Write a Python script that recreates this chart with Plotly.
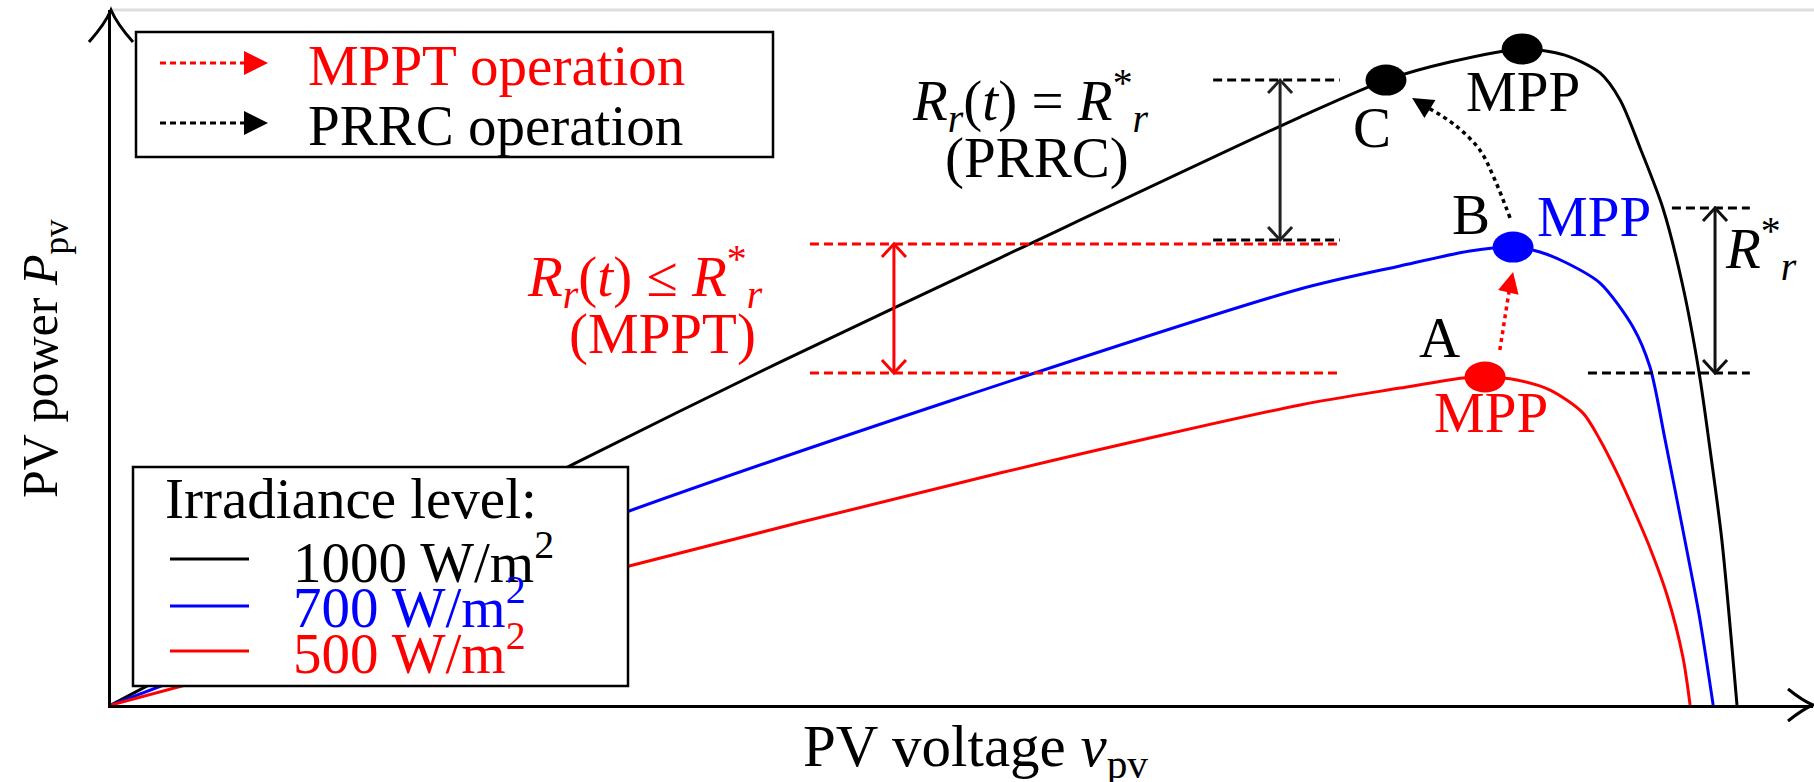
import plotly.graph_objects as go

# ---------------- data (PV voltage in V, PV power in W) ----------------
v_1000 = [0, 6.32, 12.29, 17.69, 23.50, 31.44, 33.71, 35.40, 37.31, 38.44, 39.37, 39.90, 40.45, 41.03, 41.54, 41.99, 42.28, 42.59, 42.99]
p_1000 = [0, 63.5, 121.9, 172.7, 225.1, 296.1, 314.7, 323.8, 330.4, 327.3, 318.3, 304.7, 279.5, 250.3, 212.5, 167.2, 128.4, 83.1, 0]

v_700 = [0, 13.70, 22.18, 31.44, 34.08, 35.93, 37.07, 37.78, 38.49, 39.37, 40.24, 40.69, 41.09, 41.56, 41.99, 42.36]
p_700 = [0, 97.7, 153.1, 209.5, 221.1, 228.6, 230.6, 228.1, 222.6, 212.5, 190.4, 170.2, 133.5, 88.1, 45.3, 0]

v_500 = [0, 13.70, 23.50, 31.44, 34.08, 35.75, 36.33, 37.17, 38.05, 38.92, 39.37, 39.82, 40.24, 40.69, 41.14, 41.56, 41.75]
p_500 = [0, 70.0, 116.8, 151.1, 159.6, 164.7, 165.2, 163.7, 158.6, 147.0, 133.5, 116.8, 99.2, 79.1, 55.4, 24.2, 0]

curve_names = ["1000 W/m<sup>2</sup>", "700 W/m<sup>2</sup>", "500 W/m<sup>2</sup>"]
curve_colors = ["#000000", "#0000ff", "#ff0000"]

# operating points
point_names = ["A", "B", "C", "MPP"]
point_v = [36.33, 37.07, 33.71, 37.31]
point_p = [165.2, 230.6, 314.7, 330.4]
point_colors = ["#ff0000", "#0000ff", "#000000", "#000000"]

# reserve levels (dashed reference lines)
mppt_levels = [167.2, 232.2]          # R_r(t) <= R*_r band
mppt_span = [18.48, 32.49]
mppt_arrow_v = 20.70
prrc_levels = [234.2, 314.7]          # R_r(t) = R*_r band
prrc_span = [29.14, 32.49]
prrc_arrow_v = 30.91
rstar_levels = [167.2, 250.3]         # R*_r band at right
rstar_span_lo = [39.05, 43.33]
rstar_span_hi = [41.27, 43.33]
rstar_arrow_v = 42.41

# transition paths
mppt_path_v = [36.72, 36.99]
mppt_path_p = [178.8, 211.5]
mppt_tip = [37.07, 218.1]
prrc_path_v = [36.99, 36.59, 36.19, 35.53, 34.74]
prrc_path_p = [245.3, 264.4, 279.5, 292.1, 301.7]
prrc_tip = [34.40, 305.7]

X_RANGE = [0, 45]
Y_RANGE = [0, 350]

# ---------------- layout helpers ----------------
W, H = 1814, 782
L, R, T, B = 111, 1, 10, 77
FONT = "Liberation Serif"
FS = 57


def PX(x):
    return (x - L) / (W - L - R)


def PY(y):
    return (H - B - y) / (H - T - B)


fig = go.Figure()

for v, p, c, n in zip([v_1000, v_700, v_500], [p_1000, p_700, p_500], curve_colors, curve_names):
    fig.add_trace(go.Scatter(x=v, y=p, mode="lines", name=n,
                             line=dict(color=c, width=3, shape="spline", smoothing=0.8),
                             hoverinfo="skip", showlegend=False))

# dashed reference lines
DASH = "9px,5px"
for lv in mppt_levels:
    fig.add_trace(go.Scatter(x=mppt_span, y=[lv, lv], mode="lines",
                             line=dict(color="#ff0000", width=3, dash=DASH), showlegend=False, hoverinfo="skip"))
for lv in prrc_levels:
    fig.add_trace(go.Scatter(x=prrc_span, y=[lv, lv], mode="lines",
                             line=dict(color="#000000", width=3, dash=DASH), showlegend=False, hoverinfo="skip"))
fig.add_trace(go.Scatter(x=rstar_span_lo, y=[rstar_levels[0]] * 2, mode="lines",
                         line=dict(color="#000000", width=3, dash=DASH), showlegend=False, hoverinfo="skip"))
fig.add_trace(go.Scatter(x=rstar_span_hi, y=[rstar_levels[1]] * 2, mode="lines",
                         line=dict(color="#000000", width=3, dash=DASH), showlegend=False, hoverinfo="skip"))

# double arrows (vertical shafts)
for av, lv, c in [(mppt_arrow_v, mppt_levels, "#ff0000"), (prrc_arrow_v, prrc_levels, "#222222"),
                  (rstar_arrow_v, rstar_levels, "#111111")]:
    fig.add_trace(go.Scatter(x=[av, av], y=lv, mode="lines", line=dict(color=c, width=3),
                             showlegend=False, hoverinfo="skip"))

# dotted transition paths
fig.add_trace(go.Scatter(x=mppt_path_v, y=mppt_path_p, mode="lines",
                         line=dict(color="#ff0000", width=3.5, dash="4px,4px"), showlegend=False, hoverinfo="skip"))
fig.add_trace(go.Scatter(x=prrc_path_v, y=prrc_path_p, mode="lines",
                         line=dict(color="#000000", width=3.5, dash="4px,4px", shape="spline"),
                         showlegend=False, hoverinfo="skip"))

shapes = []


# open "V" arrow heads
def vhead(x, y, path, color, xref="x", yref="y", width=3):
    shapes.append(dict(type="path", xref=xref, yref=yref, xsizemode="pixel", ysizemode="pixel",
                       xanchor=x, yanchor=y, path=path, line=dict(color=color, width=width)))


UP = "M-12,-13 L0,0 L12,-13"
DOWN = "M-12,13 L0,0 L12,13"
for av, lv, c in [(mppt_arrow_v, mppt_levels, "#ff0000"), (prrc_arrow_v, prrc_levels, "#222222"),
                  (rstar_arrow_v, rstar_levels, "#111111")]:
    vhead(av, lv[1], UP, c)
    vhead(av, lv[0], DOWN, c)

# axis arrow heads (paper-referenced so they are not clipped)
vhead(0, 1, "M-22,-32 Q-6,-14 0,0 Q6,-14 22,-32", "#000000", xref="paper", yref="paper")
vhead(1, 0, "M-25,16 Q-10,4 0,0 Q-10,-4 -25,-16", "#000000", xref="paper", yref="paper")

# markers (slightly elliptic dots)
for v, p, c in zip(point_v, point_p, point_colors):
    shapes.append(dict(type="circle", xref="x", yref="y", xsizemode="pixel", ysizemode="pixel",
                       xanchor=v, yanchor=p, x0=-20.5, x1=20.5, y0=-15.5, y1=15.5,
                       fillcolor=c, line=dict(width=0), layer="above"))

# thin grey top border line
shapes.append(dict(type="line", xref="paper", yref="paper", x0=0, x1=1.001, y0=1, y1=1,
                   line=dict(color="#dddddd", width=3), layer="below"))

# legend boxes
shapes.append(dict(type="rect", xref="paper", yref="paper", x0=PX(136), x1=PX(773), y0=PY(157), y1=PY(32),
                   fillcolor="white", line=dict(color="black", width=2.5), layer="above"))
shapes.append(dict(type="rect", xref="paper", yref="paper", x0=PX(133), x1=PX(628), y0=PY(686), y1=PY(467),
                   fillcolor="white", line=dict(color="black", width=2.5), layer="above"))
# legend line samples
for yy, c in zip([559, 606, 651], curve_colors):
    shapes.append(dict(type="line", xref="paper", yref="paper", x0=PX(170), x1=PX(249), y0=PY(yy), y1=PY(yy),
                       line=dict(color=c, width=3), layer="above"))
for yy, c in [(63, "#ff0000"), (123, "#000000")]:
    shapes.append(dict(type="line", xref="paper", yref="paper", x0=PX(160), x1=PX(246), y0=PY(yy), y1=PY(yy),
                       line=dict(color=c, width=3, dash="6px,4px"), layer="above"))

annotations = []


def txt(text, x, y, color="black", size=FS, xanchor="center", yanchor="middle", xref="paper", yref="paper",
        xshift=0, yshift=0, angle=0):
    annotations.append(dict(text=text, x=x, y=y, xref=xref, yref=yref, showarrow=False,
                            xanchor=xanchor, yanchor=yanchor, xshift=xshift, yshift=yshift, textangle=angle,
                            font=dict(family=FONT, size=size, color=color)))


# legend arrow heads
for yy, c in [(63, "#ff0000"), (123, "#000000")]:
    annotations.append(dict(x=PX(268), y=PY(yy), xref="paper", yref="paper", ax=-24, ay=0, text="",
                            showarrow=True, arrowhead=2, arrowsize=1.6, arrowwidth=3, arrowcolor=c))
# transition arrow heads
annotations.append(dict(x=mppt_tip[0], y=mppt_tip[1], xref="x", yref="y", ax=mppt_path_v[-1], ay=mppt_path_p[-1],
                        axref="x", ayref="y", text="", showarrow=True, arrowhead=2, arrowsize=1.4,
                        arrowwidth=3, arrowcolor="#ff0000"))
annotations.append(dict(x=prrc_tip[0], y=prrc_tip[1], xref="x", yref="y", ax=prrc_path_v[-1], ay=prrc_path_p[-1],
                        axref="x", ayref="y", text="", showarrow=True, arrowhead=2, arrowsize=1.4,
                        arrowwidth=3, arrowcolor="#000000"))

# legend texts
txt("MPPT operation", PX(306), PY(66), color="#ff0000", xanchor="left")
txt("PRRC operation", PX(306), PY(126), color="black", xanchor="left")
txt("Irradiance level:", PX(163), PY(499), xanchor="left")
for yy, c, n in zip([558, 603, 649], curve_colors, curve_names):
    txt(n, PX(291), PY(yy), color=c, xanchor="left")

# band labels
txt("<i>R</i><sub><i>r</i></sub>(<i>t</i>) = <i>R</i><sup>*</sup><sub><i>r</i></sub>", PX(1030), PY(101))
txt("(PRRC)", PX(1037), PY(158))
txt("<i>R</i><sub><i>r</i></sub>(<i>t</i>) ≤ <i>R</i><sup>*</sup><sub><i>r</i></sub>", PX(645), PY(276), color="#ff0000")
txt("(MPPT)", PX(662), PY(334), color="#ff0000")
txt("<i>R</i><sup>*</sup><sub><i>r</i></sub>", PX(1723), PY(248), xanchor="left")

# point labels
txt("C", point_v[2], point_p[2], xref="x", yref="y", xshift=-14, yshift=-47)
txt("MPP", point_v[3], point_p[3], xref="x", yref="y", xshift=1, yshift=-43)
txt("B", point_v[1], point_p[1], xref="x", yref="y", xshift=-42, yshift=33)
txt("MPP", point_v[1], point_p[1], xref="x", yref="y", xshift=81, yshift=31, color="#0000ff")
txt("A", point_v[0], point_p[0], xref="x", yref="y", xshift=-46, yshift=39)
txt("MPP", point_v[0], point_p[0], xref="x", yref="y", xshift=6, yshift=-36, color="#ff0000")

# axis titles
txt("PV voltage <i>v</i><sub>pv</sub>", PX(975), PY(750), size=59)
txt("PV power <i>P</i><sub>pv</sub>", PX(44), PY(359), size=50, angle=-90)

fig.update_layout(
    width=W, height=H,
    margin=dict(l=L, r=R, t=T, b=B, pad=0),
    paper_bgcolor="white", plot_bgcolor="white",
    xaxis=dict(range=X_RANGE, showgrid=False, zeroline=False, showticklabels=False, ticks="",
               showline=True, linecolor="black", linewidth=3, fixedrange=True),
    yaxis=dict(range=Y_RANGE, showgrid=False, zeroline=False, showticklabels=False, ticks="",
               showline=True, linecolor="black", linewidth=3, fixedrange=True),
    shapes=shapes,
    annotations=annotations,
    showlegend=False,
)

fig.write_html("out.html", config={"displayModeBar": False},
               post_script="document.body.style.margin='0';document.body.style.overflow='hidden';")
